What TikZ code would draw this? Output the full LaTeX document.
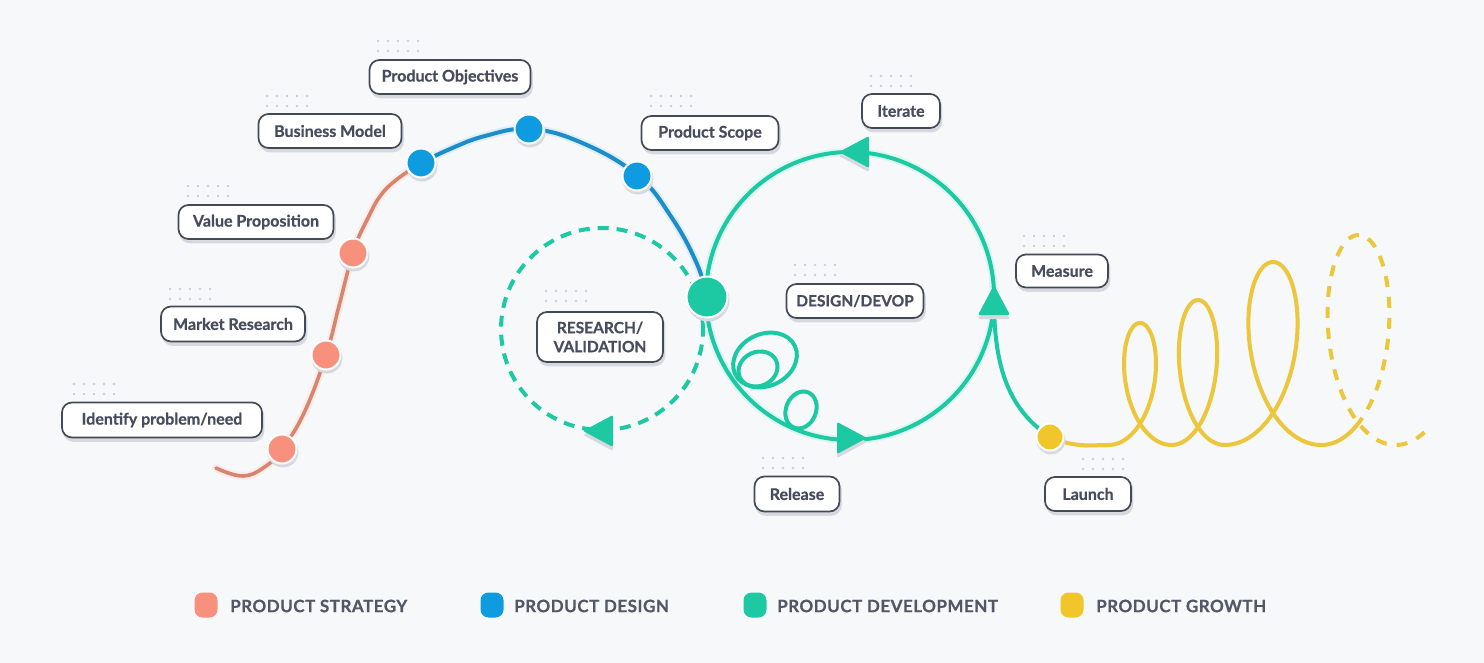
\documentclass[tikz,border=0pt]{standalone}
\usepackage{fontspec}
\setmainfont{Lato}[BoldFeatures={FakeBold=0.7}]
\usetikzlibrary{calc}
\definecolor{bg}{HTML}{F7F8FA}
\definecolor{strat}{HTML}{F8907E}
\definecolor{stratline}{HTML}{D9846E}
\definecolor{design}{HTML}{0E9BE0}
\definecolor{designline}{HTML}{1D8DCA}
\definecolor{dev}{HTML}{1DC9A2}
\definecolor{growth}{HTML}{F0C62A}
\definecolor{growthline}{HTML}{ECC63C}
\definecolor{boxline}{HTML}{444956}
\definecolor{txt}{HTML}{474C5F}
\definecolor{shadowc}{HTML}{D6D9DF}
\definecolor{griddot}{HTML}{CDD0D6}
\definecolor{legendtxt}{HTML}{535869}
\newcommand\dgrid[2]{\foreach \gi in {0,...,4}{\foreach \gj in {0,1}{\fill[griddot] ({#1+10*\gi},{#2+10*\gj}) circle[radius=1.3pt];}}}
\newcommand\tritip[4]{%
  \fill[shadowc, shift={(#1,#2)}, yshift=-4pt, rotate=#3, rounded corners=2pt] (17,0) -- (-13,16) -- (-13,-16) -- cycle;
  \fill[dev, shift={(#1,#2)}, rotate=#3, rounded corners=2pt] (17,0) -- (-13,16) -- (-13,-16) -- cycle;
  \coordinate (#4) at (#1,#2);}
\begin{document}
\begin{tikzpicture}[x=1pt,y=-1pt,
  lbl/.style={draw=boxline, line width=1.7pt, fill=white, rounded corners=10pt,
    font=\bfseries\fontsize{16}{20}\selectfont, text=txt, inner sep=0pt, align=center,
    preaction={fill=shadowc, draw=shadowc, transform canvas={xshift=1.5pt,yshift=-3.5pt}}},
  pdot/.style={circle, draw=white, line width=2pt, minimum size=29pt, inner sep=0pt,
    preaction={fill=shadowc, draw=shadowc, transform canvas={xshift=1pt,yshift=-3pt}}},
  sline/.style={stratline, line width=3.6pt, line cap=round},
  dline/.style={designline, line width=4pt, line cap=round},
  vline/.style={dev, line width=4pt, line cap=round},
  yline/.style={growthline, line width=4pt, line cap=round},
  halo/.style={line width=8pt, line cap=round},
  legsq/.style={rounded corners=8pt, minimum width=23pt, minimum height=25pt, inner sep=0pt},
  legtxt/.style={anchor=west, text=legendtxt, font=\bfseries\fontsize{17}{20}\selectfont\addfontfeature{LetterSpace=3}, inner sep=0pt}
]
\useasboundingbox (0,0) rectangle (1484,663);
\fill[bg] (0,0) rectangle (1484,663);

% ---------- strategy / design path ----------
\draw[halo, stratline!15] plot[smooth, tension=0.7] coordinates {(216,468) (243,476) (266,466) (282,449) (304,413) (326,355) (340,302) (353,253) (366,222) (386,189) (421,163)};
\draw[sline] plot[smooth, tension=0.7] coordinates {(216,468) (243,476) (266,466) (282,449) (304,413) (326,355) (340,302) (353,253) (366,222) (386,189) (421,163)};
\draw[halo, designline!15] plot[smooth, tension=0.7] coordinates {(421,163) (450,149) (485,136) (529,129) (580,142) (637,175) (672,218) (697,264) (707,297)};
\draw[dline] plot[smooth, tension=0.7] coordinates {(421,163) (450,149) (485,136) (529,129) (580,142) (637,175) (672,218) (697,264) (707,297)};

% ---------- research dashed loop ----------
\draw[dev, line width=4pt, dash pattern=on 11pt off 8pt] (602,329) circle[radius=101pt];

% ---------- development loop ----------
\draw[halo, dev!15] (850,296) circle[radius=144pt];
\draw[vline] (850,296) circle[radius=144pt];
\draw[vline, rotate around={25:(765,360)}] (765,360) ellipse[x radius=33pt, y radius=26pt];
\draw[vline, rotate around={25:(758,369)}] (758,369) ellipse[x radius=20pt, y radius=17pt];
\draw[vline, rotate around={-22:(801,410)}] (801,410) ellipse[x radius=15pt, y radius=19pt];
\draw[vline] (994,300) .. controls (994,370) and (1010,410) .. (1050,437);

% ---------- growth spiral ----------
\draw[yline] (1050,437) .. controls (1075,448) and (1090,445) .. (1108.6,445);
\draw[yline] plot[domain=0:6.2832, samples=120, variable=\t] ({1108.6+10*\t+30*sin(\t r)},{445-61*(1-cos(\t r))});
\draw[yline] plot[domain=0:6.2832, samples=120, variable=\t] ({1171.4+8.47*\t+31.3*sin(\t r)},{445-72.5*(1-cos(\t r))});
\draw[yline] plot[domain=0:6.2832, samples=140, variable=\t] ({1224.6+15.4*\t+46.2*sin(\t r)},{445-91.5*(1-cos(\t r))});
\draw[yline] plot[domain=0:0.6, samples=20, variable=\t] ({1321.4+11.8*\t+48*sin(\t r)},{445-105*(1-cos(\t r))});
\draw[growthline, line width=4pt, dash pattern=on 11pt off 10pt] plot[domain=0.6:6.783, samples=160, variable=\t] ({1321.4+11.8*\t+48*sin(\t r)},{445-105*(1-cos(\t r))});

% ---------- arrowheads ----------
\tritip{856}{152}{180}{aiter}
\tritip{994}{302}{90}{ameas}
\tritip{850}{438}{0}{arel}
\tritip{600}{431}{180}{ares}

% ---------- dots ----------
\node[pdot, fill=strat] (d1) at (282,449) {};
\node[pdot, fill=strat] (d2) at (326,355) {};
\node[pdot, fill=strat] (d3) at (353,253) {};
\node[pdot, fill=design] (d4) at (421,163) {};
\node[pdot, fill=design] (d5) at (529,129) {};
\node[pdot, fill=design] (d6) at (637,176) {};
\node[pdot, fill=dev, minimum size=41pt] (d7) at (707,297) {};
\node[pdot, fill=growth, minimum size=27pt] (d8) at (1050,437) {};

% ---------- labels ----------
\dgrid{378}{41}\node[lbl, minimum width=161pt, minimum height=34pt] (po) at (450,77) {Product Objectives};
\dgrid{267}{96}\node[lbl, minimum width=143pt, minimum height=34pt] (bm) at (330,131) {Business Model};
\dgrid{188}{186}\node[lbl, minimum width=155pt, minimum height=34pt] (vp) at (256,222) {Value Proposition};
\dgrid{170}{289}\node[lbl, minimum width=144pt, minimum height=35pt] (mr) at (233,324) {Market Research};
\dgrid{74}{384}\node[lbl, minimum width=200pt, minimum height=35pt] (ip) at (162,420) {Identify problem/need};
\dgrid{651}{96}\node[lbl, minimum width=137pt, minimum height=34pt] (ps) at (710,133) {Product Scope};
\dgrid{546}{291}\node[lbl, minimum width=126pt, minimum height=50pt, font=\bfseries\fontsize{15.5}{19}\selectfont] (rv) at (600,337) {RESEARCH/\\VALIDATION};
\dgrid{795}{265}\node[lbl, minimum width=137pt, minimum height=34pt, font=\bfseries\fontsize{15.5}{19}\selectfont] (dd) at (855,301) {DESIGN/DEVOP};
\dgrid{871}{76}\node[lbl, minimum width=78pt, minimum height=34pt] (it) at (901,111) {Iterate};
\dgrid{1024}{236}\node[lbl, minimum width=92pt, minimum height=33pt] (me) at (1062,271) {Measure};
\dgrid{763}{458}\node[lbl, minimum width=85pt, minimum height=35pt] (re) at (797,494) {Release};
\dgrid{1083}{459}\node[lbl, minimum width=86pt, minimum height=34pt] (la) at (1088,494) {Launch};

% ---------- legend ----------
\node[legsq, fill=strat] (l1) at (206,605) {};
\node[legtxt] (t1) at (230,606) {PRODUCT STRATEGY};
\node[legsq, fill=design] (l2) at (492,605) {};
\node[legtxt] (t2) at (514,606) {PRODUCT DESIGN};
\node[legsq, fill=dev] (l3) at (755,605) {};
\node[legtxt] (t3) at (777,606) {PRODUCT DEVELOPMENT};
\node[legsq, fill=growth] (l4) at (1072,605) {};
\node[legtxt] (t4) at (1096,606) {PRODUCT GROWTH};
\end{tikzpicture}
\end{document}
